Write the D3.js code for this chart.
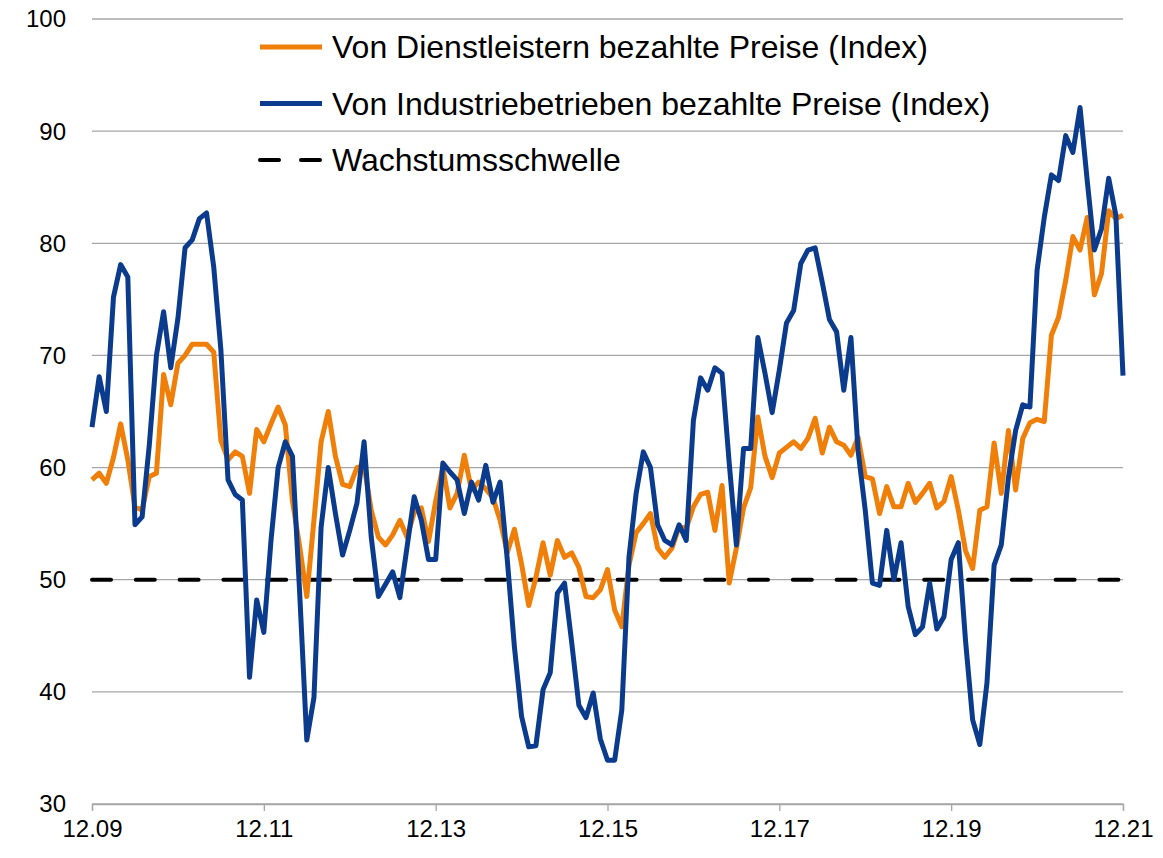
<!DOCTYPE html>
<html>
<head>
<meta charset="utf-8">
<script src="https://cdn.jsdelivr.net/npm/d3@7"></script>
<style>
  body { margin: 0; background: #fff; }
  svg { font-family: "Liberation Sans", Arial, sans-serif; }
</style>
</head>
<body>
<svg id="chart" width="1163" height="858"></svg>
<script>
// monthly values, 12.09 .. 12.21
const services = [58.9, 59.5, 58.6, 60.9, 63.9, 60.7, 56.5, 56.2, 59.2, 59.5, 68.3, 65.6,
  69.3, 70.0, 71.0, 71.0, 71.0, 70.3, 62.4, 60.7, 61.4, 61.0, 57.7, 63.4,
  62.3, 63.9, 65.4, 63.8, 57.0, 53.0, 48.5, 55.3, 62.3, 65.0, 61.0, 58.5,
  58.3, 60.0, 60.2, 56.2, 53.8, 53.1, 54.0, 55.3, 53.8, 56.0, 56.4, 53.4,
  57.0, 60.0, 56.4, 57.7, 61.1, 58.0, 58.7, 58.1, 57.3, 55.3, 52.4, 54.5,
  51.4, 47.7, 50.2, 53.3, 50.4, 53.5, 52.0, 52.4, 51.1, 48.5, 48.4, 49.1,
  50.9, 47.3, 45.8, 51.3, 54.2, 55.0, 55.9, 52.8, 52.0, 52.8, 54.7, 54.6,
  56.5, 57.6, 57.8, 54.4, 58.4, 49.7, 52.8, 56.4, 58.2, 64.5, 61.0, 59.1,
  61.3, 61.8, 62.3, 61.7, 62.6, 64.4, 61.3, 63.6, 62.3, 62.0, 61.1, 62.7,
  59.2, 59.0, 55.9, 58.3, 56.5, 56.5, 58.6, 56.9, 57.7, 58.6, 56.4, 57.0,
  59.2, 56.2, 52.6, 51.0, 56.2, 56.5, 62.2, 57.7, 63.3, 58.0, 62.6, 64.0,
  64.3, 64.1, 71.8, 73.4, 76.7, 80.6, 79.4, 82.3, 75.4, 77.3, 82.9, 82.2,
  82.5];

const industry = [63.6, 68.1, 65.0, 75.2, 78.1, 77.0, 54.9, 55.6, 62.0, 70.0, 73.9, 68.9,
  73.3, 79.6, 80.3, 82.2, 82.7, 77.9, 70.5, 58.9, 57.6, 57.1, 41.3, 48.2,
  45.3, 53.5, 60.0, 62.3, 61.0, 48.9, 35.7, 39.5, 54.7, 60.0, 55.9, 52.2,
  54.4, 56.8, 62.3, 53.8, 48.5, 49.6, 50.7, 48.4, 52.9, 57.4, 55.3, 51.8,
  51.8, 60.4, 59.6, 58.9, 55.9, 58.7, 57.1, 60.2, 56.9, 58.7, 51.8, 44.0,
  37.8, 35.1, 35.2, 40.2, 41.7, 48.8, 49.7, 44.4, 38.8, 37.7, 39.9, 35.8,
  33.9, 33.9, 38.4, 52.0, 57.7, 61.4, 60.0, 54.9, 53.5, 53.1, 54.9, 53.5,
  64.2, 68.0, 66.9, 68.9, 68.4, 60.4, 53.1, 61.7, 61.7, 71.6, 68.4, 64.9,
  68.7, 72.9, 74.0, 78.2, 79.4, 79.6, 76.5, 73.2, 72.1, 66.9, 71.6, 61.5,
  56.2, 49.7, 49.5, 54.4, 50.0, 53.3, 47.6, 45.1, 45.8, 49.7, 45.6, 46.7,
  51.8, 53.3, 44.6, 37.5, 35.3, 40.8, 51.3, 53.1, 59.1, 63.3, 65.6, 65.4,
  77.6, 82.3, 86.1, 85.6, 89.6, 88.1, 92.1, 85.6, 79.4, 81.3, 85.8, 82.5,
  68.2];

const threshold = 50;
const xTickLabels = ["12.09", "12.11", "12.13", "12.15", "12.17", "12.19", "12.21"];
const yTicks = [30, 40, 50, 60, 70, 80, 90, 100];
const seriesNames = ["Von Dienstleistern bezahlte Preise (Index)",
  "Von Industriebetrieben bezahlte Preise (Index)",
  "Wachstumsschwelle"];

const orange = "#f07f09";
const blue = "#0b3b8c";

const margin = { top: 19, right: 40, bottom: 54, left: 92 };
const svg = d3.select("#chart");
const width = +svg.attr("width") - margin.left - margin.right;
const height = +svg.attr("height") - margin.top - margin.bottom;

const plot = svg.append("g")
  .attr("transform", `translate(${margin.left},${margin.top})`);

const x = d3.scaleLinear().domain([0, services.length - 1]).range([0, width]);
const y = d3.scaleLinear().domain([30, 100]).range([height, 0]);

// gridlines
plot.append("g")
  .selectAll("line")
  .data(yTicks)
  .enter().append("line")
  .attr("x1", 0).attr("x2", width)
  .attr("y1", d => y(d)).attr("y2", d => y(d))
  .attr("stroke", "#a6a6a6")
  .attr("stroke-width", 1.3);

// y labels
plot.append("g")
  .selectAll("text")
  .data(yTicks)
  .enter().append("text")
  .attr("x", -26)
  .attr("y", d => y(d))
  .attr("dy", "0.35em")
  .attr("text-anchor", "end")
  .attr("font-size", 24)
  .attr("fill", "#000")
  .text(d => d);

// x axis
const xTickIdx = xTickLabels.map((d, i) => i * 24);
const xAxis = plot.append("g")
  .attr("transform", `translate(0,${height})`)
  .call(d3.axisBottom(x).tickValues(xTickIdx).tickSize(7).tickFormat((d, i) => xTickLabels[i]));
xAxis.select(".domain").attr("stroke", "#a6a6a6").attr("stroke-width", 1.3);
xAxis.selectAll(".tick line").attr("stroke", "#a6a6a6").attr("stroke-width", 1.3);
xAxis.selectAll(".tick text")
  .attr("font-size", 24)
  .attr("font-family", "Liberation Sans, Arial, sans-serif")
  .attr("fill", "#000")
  .attr("y", 16)
  .attr("dy", "0.71em");

// threshold line
plot.append("line")
  .attr("x1", 0).attr("x2", width)
  .attr("y1", y(threshold)).attr("y2", y(threshold))
  .attr("stroke", "#000")
  .attr("stroke-width", 4)
  .attr("stroke-linecap", "round")
  .attr("stroke-dasharray", "19,24.8");

const line = d3.line()
  .x((d, i) => x(i))
  .y(d => y(d));

plot.append("path")
  .datum(services)
  .attr("d", line)
  .attr("fill", "none")
  .attr("stroke", orange)
  .attr("stroke-width", 5)
  .attr("stroke-linejoin", "round");

plot.append("path")
  .datum(industry)
  .attr("d", line)
  .attr("fill", "none")
  .attr("stroke", blue)
  .attr("stroke-width", 5)
  .attr("stroke-linejoin", "round");

// legend
const legend = svg.append("g").attr("transform", "translate(258,47)");
const legendStyles = [
  { color: orange, dash: null },
  { color: blue, dash: null },
  { color: "#000", dash: "19,22" }
];
seriesNames.forEach((name, i) => {
  const g = legend.append("g").attr("transform", `translate(0,${i * 56.5})`);
  g.append("line")
    .attr("x1", 2).attr("x2", 64)
    .attr("stroke", legendStyles[i].color)
    .attr("stroke-width", i == 2 ? 4 : 5)
    .attr("stroke-linecap", i == 2 ? "round" : "butt")
    .attr("stroke-dasharray", legendStyles[i].dash);
  g.append("text")
    .attr("x", 74)
    .attr("dy", "0.35em")
    .attr("font-size", 32)
    .attr("fill", "#000")
    .text(name);
});
</script>
</body>
</html>
